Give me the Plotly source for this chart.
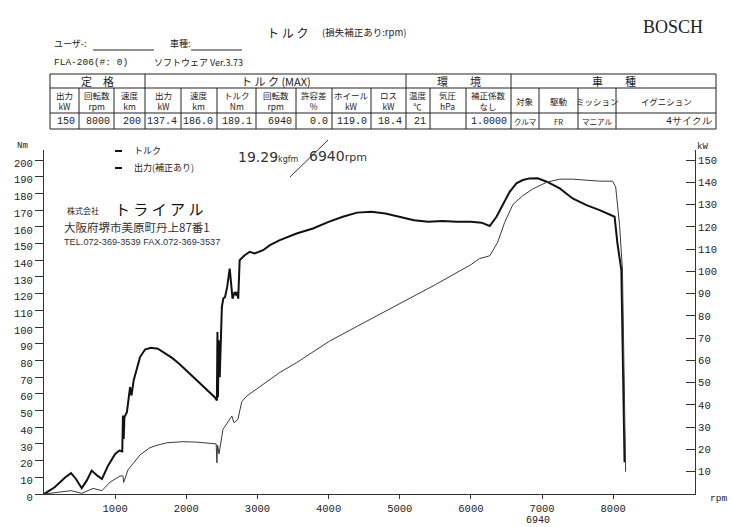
import plotly.graph_objects as go

# ---------------- data ----------------
torque_rpm = [0, 150, 300, 380, 450, 530, 600, 670, 750, 815, 900, 1000, 1060, 1100, 1110, 1120, 1130,
              1165, 1210, 1230, 1260, 1300, 1350, 1420, 1500, 1600, 1700, 1800, 1900, 2000, 2100, 2200,
              2300, 2400, 2430, 2438, 2445, 2455, 2470, 2490, 2500, 2520, 2545, 2575, 2610, 2650, 2680,
              2700, 2710, 2730, 2750, 2820, 2890, 2960, 3080, 3175, 3315, 3550, 3780, 4000, 4200, 4400,
              4600, 4800, 5000, 5200, 5400, 5600, 5800, 6000, 6150, 6265, 6360, 6475, 6545, 6640, 6730,
              6825, 6940, 7065, 7250, 7430, 7625, 7810, 8020, 8060, 8115, 8160]
torque_nm = [0, 4, 10, 12.5, 9, 3.5, 8, 14, 11, 9, 17, 24, 26, 25.5, 47, 33, 46,
             49, 64, 59, 68, 74, 82, 86.5, 87.5, 87, 84.5, 81.5, 78, 74, 70, 66,
             62, 58, 56, 97, 58, 92, 70, 105, 112, 117, 118, 124, 135, 117, 121,
             119, 121, 117, 140, 143, 145, 144, 146, 149, 152, 156, 159, 163, 166, 168.5,
             169, 168, 166, 164, 163, 163.5, 163, 163, 162.5, 160.5, 166, 175, 181, 186, 188,
             189, 189.1, 187, 183, 177, 173, 170, 166, 150, 134, 19]

power_rpm = [0, 200, 380, 530, 690, 815, 930, 1070, 1110, 1120, 1180, 1235, 1350, 1490, 1600, 1730,
             1950, 2150, 2300, 2420, 2430, 2440, 2460, 2500, 2515, 2640, 2670, 2725, 2780, 2850, 3075,
             3315, 3550, 3780, 4015, 4500, 5000, 5500, 6000, 6120, 6265, 6375, 6475, 6590, 6730, 6870,
             7065, 7250, 7430, 7625, 7810, 7990, 8035, 8090, 8130, 8175]
power_kw = [0, 0.8, 1.5, 0.3, 2.5, 1.5, 5.4, 8.1, 8.1, 5.2, 10.8, 13, 17.6, 20.8, 22, 23,
            23.5, 23.3, 23, 22.5, 14, 22, 18, 25, 29, 35, 32, 33.5, 41.5, 44, 49,
            54.6, 59, 63.7, 68.7, 77, 85.5, 94, 103, 105.7, 107, 113, 122, 130, 134, 137,
            140, 141.4, 141.4, 141, 140.5, 140.5, 138, 120.6, 101, 10]

rpm_ticks = [1000, 2000, 3000, 4000, 5000, 6000, 7000, 8000]
nm_ticks = list(range(0, 201, 10))
kw_ticks = list(range(10, 151, 10))

group_headers = ["定　格", "ト ル ク (MAX)", "環　　境", "車　　種"]
col_headers = ["出力<br>kW", "回転数<br>rpm", "速度<br>km", "出力<br>kW", "速度<br>km", "トルク<br>Nm",
               "回転数<br>rpm", "許容差<br>%", "ホイール<br>kW", "ロス<br>kW", "温度<br>℃", "気圧<br>hPa",
               "補正係数<br>なし", "対象", "駆動", "ミッション", "イグニション"]
col_values = ["150", "8000", "200", "137.4", "186.0", "189.1", "6940", "0.0", "119.0", "18.4", "21", "",
              "1.0000", "クルマ", "FR", "マニアル", "4サイクル"]

# ---------------- layout helpers (pixel -> paper) ----------------
L, R, T, B = 44, 695, 150, 494
def px(x):
    return (x - L) / (R - L)
def py(y):
    return (B - y) / (B - T)

JP = "Noto Sans CJK JP"
MONO = "Liberation Mono"

fig = go.Figure()
fig.add_trace(go.Scatter(x=power_rpm, y=power_kw, mode="lines", name="出力(補正あり)",
                         line=dict(color="#3a3a3a", width=1), yaxis="y2", showlegend=False))
fig.add_trace(go.Scatter(x=torque_rpm, y=torque_nm, mode="lines", name="トルク",
                         line=dict(color="#111111", width=2), showlegend=False))

shapes = []
ann = []

def line(x0, y0, x1, y1, w=1, c="#222"):
    shapes.append(dict(type="line", xref="paper", yref="paper", x0=px(x0), y0=py(y0),
                       x1=px(x1), y1=py(y1), line=dict(color=c, width=w)))

def text(x, y, s, size=11, font=JP, xa="center", ya="middle", color="#222"):
    ann.append(dict(x=px(x), y=py(y), xref="paper", yref="paper", text=s, showarrow=False,
                    xanchor=xa, yanchor=ya, font=dict(family=font, size=size, color=color)))

# header
text(287, 32, "ト ル ク", 12)
text(364, 32, "(損失補正あり:rpm)", 9.5)
text(673, 27, "BOSCH", 18, "Liberation Serif")
text(52, 44, "ユーザ-:", 9, xa="left")
line(93, 50, 154, 50)
text(168, 44, "車種:", 9, xa="left")
line(191, 50, 242, 50)
text(52, 62, "FLA-206(#: 0)", 9.5, MONO, xa="left")
text(152, 62, "ソフトウェア Ver.3.73", 9, xa="left")

# table
cols = [50, 79, 114, 145, 181, 217, 256, 296, 332, 371, 406, 430, 466, 511, 539, 578, 616, 716]
t0, t1, t2, t3 = 74, 88, 113, 129
for yy in (t0, t1, t2, t3):
    line(cols[0], yy, cols[-1], yy)
for i, xx in enumerate(cols):
    top = t0 if xx in (50, 145, 406, 511, 716) else t1
    line(xx, top, xx, t3)
groups = [(50, 145), (145, 406), (406, 511), (511, 716)]
for (a, b), g in zip(groups, group_headers):
    text((a + b) / 2, (t0 + t1) / 2, g, 11)
for i in range(len(col_headers)):
    a, b = cols[i], cols[i + 1]
    text((a + b) / 2, (t1 + t2) / 2, col_headers[i], 8.5)
    v = col_values[i]
    if v and v[0].isdigit():
        text(b - 2, (t2 + t3) / 2, v, 10, MONO, xa="right")
    else:
        text((a + b) / 2, (t2 + t3) / 2, v, 7.5)

# legend / stamp / handwriting
line(115, 151, 122, 151, 2, "#111")
text(132, 150, "トルク", 9, xa="left")
line(115, 168, 122, 168, 2, "#111")
text(132, 167, "出力(補正あり)", 9, xa="left")
text(65, 210, "株式会社", 8, xa="left")
text(113, 208, "ト ラ イ ア ル", 15, xa="left", color="#111")
text(62, 227, "大阪府堺市美原町丹上87番1", 11.5, xa="left", color="#333")
text(62, 242, "TEL.072-369-3539 FAX.072-369-3537", 9.2, "Liberation Sans Narrow, Liberation Sans", xa="left", color="#333")
text(236, 157, "19.29<span style='font-size:8px'>kgfm</span>", 14, "DejaVu Sans", xa="left", color="#333")
line(290, 177, 328, 140, 1, "#333")
text(307, 156, "6940<span style='font-size:11px'>rpm</span>", 14, "DejaVu Sans", xa="left", color="#333")

# axis titles
text(22, 146, "Nm", 9, MONO)
text(702, 147, "kW", 9, MONO)
text(729, 498, "rpm", 9.5, MONO, xa="right")
text(538, 513, "6940", 10, MONO, ya="top")

fig.update_layout(
    width=731, height=527,
    margin=dict(l=L, r=731 - R, t=T, b=527 - B),
    paper_bgcolor="white", plot_bgcolor="white",
    shapes=shapes, annotations=ann,
    xaxis=dict(range=[0, 9150], tickvals=rpm_ticks, ticks="outside", ticklen=4, tickcolor="#333",
               showline=True, linecolor="#333", linewidth=1, showgrid=False, zeroline=False,
               tickfont=dict(family=MONO, size=10.5, color="#222")),
    yaxis=dict(range=[0, 206], tickvals=nm_ticks, ticks="outside", ticklen=8, tickcolor="#333",
               showline=True, linecolor="#333", linewidth=1, showgrid=False, zeroline=False,
               tickfont=dict(family=MONO, size=10.5, color="#222"), ticklabelshift=3),
    yaxis2=dict(range=[0, 154.5], tickvals=kw_ticks, overlaying="y", side="right", ticks="inside",
                ticklen=9, tickcolor="#333", showline=True, linecolor="#333", linewidth=1,
                showgrid=False, zeroline=False,
                tickfont=dict(family=MONO, size=10.5, color="#222")),
)

fig.write_html("out.html", config={"displayModeBar": False},
               post_script="document.body.style.margin='0';document.body.style.padding='0';")
